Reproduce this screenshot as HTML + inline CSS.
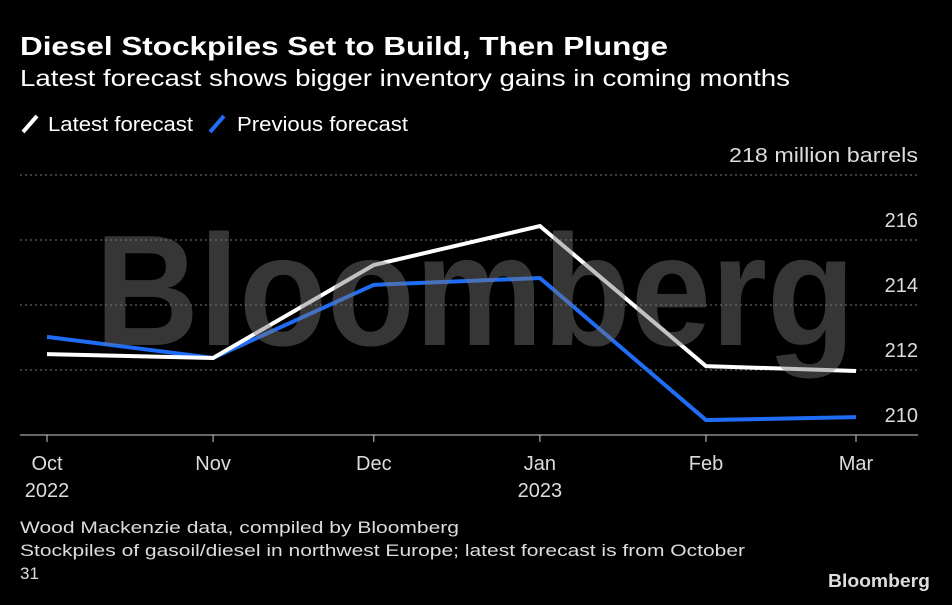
<!DOCTYPE html>
<html><head><meta charset="utf-8"><style>
body{margin:0;background:#000;width:952px;height:600px;overflow:hidden;font-family:"Liberation Sans",sans-serif;color:#fff}
svg text{font-family:"Liberation Sans",sans-serif}
</style></head><body>
<svg width="952" height="600">
<text x="20" y="55" font-size="26" font-weight="bold" fill="#fff" textLength="648" lengthAdjust="spacingAndGlyphs">Diesel Stockpiles Set to Build, Then Plunge</text>
<text x="20" y="86" font-size="23" fill="#fff" textLength="770" lengthAdjust="spacingAndGlyphs">Latest forecast shows bigger inventory gains in coming months</text>
<g>
<line x1="23" y1="132" x2="37" y2="116" stroke="#fff" stroke-width="4"/>
<text x="48" y="131" font-size="20" fill="#fff" textLength="145" lengthAdjust="spacingAndGlyphs">Latest forecast</text>
<line x1="210" y1="132" x2="224" y2="116" stroke="#1f6cf5" stroke-width="4"/>
<text x="237" y="131" font-size="20" fill="#fff" textLength="171" lengthAdjust="spacingAndGlyphs">Previous forecast</text>
</g>
<g id="grid"></g>
<g id="series"></g>
<text x="95" y="345" font-size="158" font-weight="bold" fill="rgba(120,120,120,0.45)" textLength="760" lengthAdjust="spacingAndGlyphs">Bloomberg</text>
<g id="xaxis"></g>
<text x="20" y="533" font-size="17" fill="#ddd" textLength="439" lengthAdjust="spacingAndGlyphs">Wood Mackenzie data, compiled by Bloomberg</text>
<text x="20" y="556" font-size="17" fill="#ddd" textLength="725" lengthAdjust="spacingAndGlyphs">Stockpiles of gasoil/diesel in northwest Europe; latest forecast is from October</text>
<text x="20" y="579" font-size="17" fill="#ddd">31</text>
<text x="930" y="587" text-anchor="end" font-size="18" font-weight="bold" fill="#ddd" textLength="102" lengthAdjust="spacingAndGlyphs">Bloomberg</text>
</svg>
<script>
const months=["Oct","Nov","Dec","Jan","Feb","Mar"];
const years=["2022","","","2023","",""];
const dayOffsets=[0,31,61,92,123,151];
const latest=[212.49,212.37,215.23,216.43,212.12,211.97];
const previous=[213.02,212.37,214.62,214.83,210.46,210.55];
const yTicks=[210,212,214,216,218];
const yTickLabels=["210","212","214","216","218 million barrels"];
const NS="http://www.w3.org/2000/svg";
function xs(d){return 47+(d/151)*(856-47);}
function ys(v){return 435-(v-210)*32.5;}
function mk(t,a,p){const e=document.createElementNS(NS,t);for(const k in a)e.setAttribute(k,a[k]);p.appendChild(e);return e;}
const grid=document.getElementById('grid');
yTicks.forEach((v,i)=>{
 if(v!==210){const l=mk('line',{x1:20,x2:918,y1:ys(v),y2:ys(v),stroke:'#777','stroke-dasharray':'2,3','stroke-width':1},grid);
 
 }
 const a={x:918,y:ys(v)-13,'text-anchor':'end','font-size':20,fill:'#ddd'};
 if(v===218){a.textLength=189;a.lengthAdjust='spacingAndGlyphs';}
 const t=mk('text',a,grid);
 t.textContent=yTickLabels[i];
 
 
});
const xa=document.getElementById('xaxis');
const base=mk('line',{x1:20,x2:918,y1:435,y2:435,stroke:'#ccc','stroke-width':1},xa);


months.forEach((m,i)=>{
 const x=xs(dayOffsets[i]);
 const tk=mk('line',{x1:x,x2:x,y1:435,y2:442,stroke:'#ccc'},xa);
 
 
 const t=mk('text',{x:x,y:470,'text-anchor':'middle','font-size':20,fill:'#ddd'},xa);
 t.textContent=m;
 
 
 if(years[i]){const y=mk('text',{x:x,y:497,'text-anchor':'middle','font-size':20,fill:'#ddd'},xa);
 y.textContent=years[i];
 
 }
});
const sg=document.getElementById('series');
function line(vals,color,name){
 const pts=vals.map((v,i)=>xs(dayOffsets[i])+','+ys(v)).join(' ');
 const p=mk('polyline',{points:pts,fill:'none',stroke:color,'stroke-width':4,'stroke-linejoin':'miter'},sg);
 
 
}
line(previous,'#1f6cf5','previous-forecast-line');
line(latest,'#ffffff','latest-forecast-line');
</script>
</body></html>
